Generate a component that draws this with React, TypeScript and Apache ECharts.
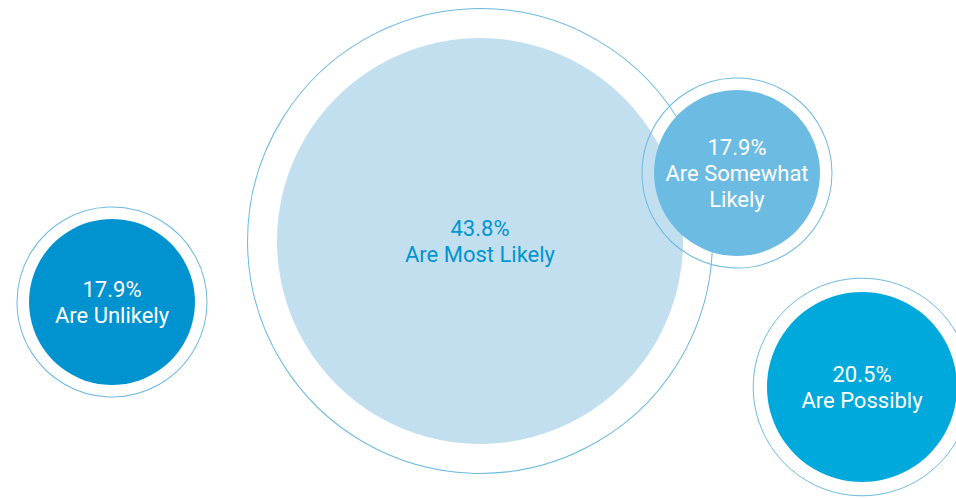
import React, { useEffect, useRef } from "react";
import * as echarts from "echarts";

// Data
const categories = ["Are Unlikely", "Are Most Likely", "Are Somewhat Likely", "Are Possibly"];
const labelLines = ["Are Unlikely", "Are Most Likely", "Are Somewhat\nLikely", "Are Possibly"];
const shares = [17.9, 43.8, 17.9, 20.5];

// Layout (pixel positions of bubble centres)
const posX = [112, 480, 737, 862];
const posY = [302, 241, 173, 387];

const fillColors = ["#0093d0", "#c2dff0", "#6cbbe3", "#00a9db"];
const textColors = ["#ffffff", "#0095d0", "#ffffff", "#ffffff"];
const ringColor = "#6cb9e0";
const PX_PER_PCT = 9.27;
const RING_RATIO = 1.145;

export default function App() {
  const ref = useRef<HTMLDivElement>(null);
  useEffect(() => {
    document.body.style.margin = "0";
    const chart = echarts.init(ref.current!, null, { renderer: "svg" });
    const data: any[] = [];
    categories.forEach((name, i) => {
      data.push({
        name: name + " ring",
        value: [posX[i], posY[i], shares[i]],
        symbolSize: shares[i] * PX_PER_PCT * RING_RATIO,
        itemStyle: { color: "rgba(0,0,0,0)", borderColor: ringColor, borderWidth: 1, opacity: 1 },
        label: { show: false },
      });
      data.push({
        name,
        value: [posX[i], posY[i], shares[i]],
        symbolSize: shares[i] * PX_PER_PCT,
        itemStyle: { color: fillColors[i], opacity: 1 },
        label: {
          show: true,
          position: "inside",
          formatter: () => `${shares[i].toFixed(1)}%\n${labelLines[i]}`,
          color: textColors[i],
          fontFamily: "Roboto",
          fontSize: 22,
          lineHeight: 26,
          align: "center",
        },
      });
    });
    chart.setOption({
      animation: false,
      grid: { left: 0, right: 0, top: 0, bottom: 0 },
      xAxis: { type: "value", min: 0, max: 956, show: false },
      yAxis: { type: "value", min: 0, max: 498, inverse: true, show: false },
      series: [
        {
          type: "scatter",
          symbol: "circle",
          data,
          silent: true,
          itemStyle: { opacity: 1 },
          emphasis: { disabled: true },
        },
      ],
    });
    return () => chart.dispose();
  }, []);
  return <div ref={ref} style={{ width: 956, height: 498, background: "#ffffff" }} />;
}
